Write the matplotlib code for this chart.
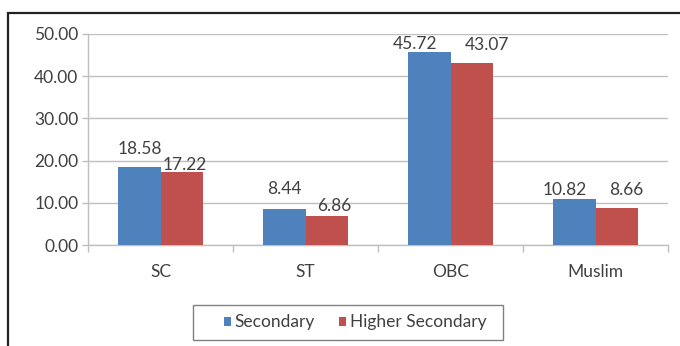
import matplotlib
matplotlib.use("Agg")
import matplotlib.pyplot as plt
from matplotlib.patches import Rectangle
import numpy as np

plt.rcParams['font.family'] = ['Lato', 'DejaVu Sans']

categories = ["SC", "ST", "OBC", "Muslim"]
secondary = [18.58, 8.44, 45.72, 10.82]
higher_secondary = [17.22, 6.86, 43.07, 8.66]
y_ticks = [0, 10, 20, 30, 40, 50]

# value-label nudges (px): horizontal shift and gap above the bar top
dx_secondary = [0, 0, -14, -10]
dx_higher = [3, 8, 16, 10]
gap_secondary = [13, 15, 3, 4]
gap_higher = [2, 5, 13, 13]

W, H = 680, 346
fig = plt.figure(figsize=(W / 100, H / 100), dpi=100)

# outer frame of the chart area
fig.patches.append(Rectangle((8 / W, -0.1), 1.2, 1 - 13 / H + 0.1,
                             transform=fig.transFigure, fill=False,
                             edgecolor="#222222", linewidth=1.6))

left, right, top, bottom = 88, 668, 34, 245
ax = fig.add_axes([left / W, 1 - bottom / H, (right - left) / W, (bottom - top) / H])

text_col = "#404040"
blue = "#4F81BD"
red = "#C0504D"
fs = 12.5
x = np.arange(len(categories))
bw = 0.29

b1 = ax.bar(x - bw / 2, secondary, bw, color=blue, label="Secondary", zorder=3)
b2 = ax.bar(x + bw / 2, higher_secondary, bw, color=red, label="Higher Secondary", zorder=3)

for bars, vals, dxs, gaps in ((b1, secondary, dx_secondary, gap_secondary),
                              (b2, higher_secondary, dx_higher, gap_higher)):
    for rect, v, dx, g in zip(bars, vals, dxs, gaps):
        ax.annotate(f"{v:.2f}", (rect.get_x() + rect.get_width() / 2, v),
                    xytext=(dx * 0.72, g * 0.72), textcoords="offset points",
                    ha="center", va="baseline", fontsize=fs, color=text_col,
                    zorder=4, annotation_clip=False)

ax.set_xlim(-0.5, len(categories) - 0.5)
ax.set_ylim(0, 50)
ax.set_yticks(y_ticks)
ax.set_yticklabels([f"{t:.2f}" for t in y_ticks])
ax.yaxis.grid(True, color="#BFBFBF", linewidth=1.0, zorder=0)
ax.set_axisbelow(True)

ax.set_xticks(x)
ax.set_xticklabels(categories)
ax.tick_params(axis="x", length=0, pad=14, labelsize=fs, labelcolor=text_col)
ax.tick_params(axis="y", length=4, width=1, color="#BFBFBF", pad=3,
               labelsize=fs, labelcolor=text_col)
# category boundary ticks below the axis
ax.set_xticks(np.arange(-0.5, len(categories)), minor=True)
ax.tick_params(axis="x", which="minor", length=5, width=1, color="#BFBFBF", direction="out")

for side in ("top", "right"):
    ax.spines[side].set_visible(False)
for side in ("left", "bottom"):
    ax.spines[side].set_color("#BFBFBF")
    ax.spines[side].set_linewidth(1.0)

# legend box
fig.patches.append(Rectangle((193 / W, 1 - 340 / H), 310 / W, 35 / H,
                             transform=fig.transFigure, fill=False,
                             edgecolor="#808080", linewidth=1.0))
leg = fig.legend(handles=[b1, b2], loc="center",
                 bbox_to_anchor=(355 / W, 1 - 322.5 / H), ncol=2,
                 frameon=False, fontsize=fs,
                 handlelength=0.42, handleheight=0.42, handletextpad=0.2,
                 columnspacing=1.4, borderpad=0, borderaxespad=0)
for t in leg.get_texts():
    t.set_color(text_col)

fig.savefig("out.png", dpi=100)
